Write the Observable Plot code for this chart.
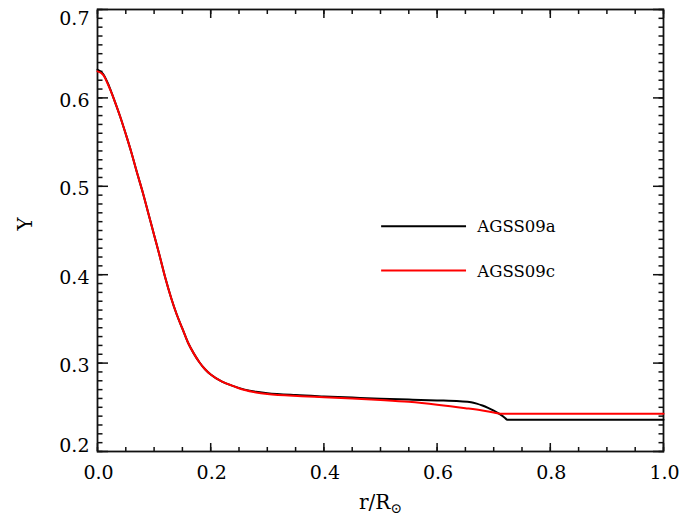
<!DOCTYPE html>
<html>
<head>
<meta charset="utf-8">
<script src="https://cdn.jsdelivr.net/npm/d3@7"></script>
<script src="https://cdn.jsdelivr.net/npm/@observablehq/plot@0.6"></script>
<style>
  html, body { margin: 0; padding: 0; background: white; }
</style>
</head>
<body>
<div id="chart"></div>
<script>
// ---- data ----
const rA = [0, 0.01, 0.02, 0.03, 0.04, 0.05, 0.06, 0.07, 0.08, 0.09, 0.10, 0.11, 0.12, 0.13, 0.14, 0.15, 0.16, 0.17, 0.18, 0.19, 0.20, 0.22, 0.24, 0.26, 0.28, 0.30, 0.35, 0.40, 0.45, 0.50, 0.55, 0.60, 0.64, 0.66, 0.67, 0.68, 0.69, 0.70, 0.71, 0.72, 0.724, 0.75, 0.85, 1.0];
const yA = [0.632, 0.627, 0.614, 0.597, 0.579, 0.559, 0.538, 0.515, 0.493, 0.469, 0.445, 0.421, 0.396, 0.374, 0.355, 0.339, 0.323, 0.311, 0.301, 0.293, 0.287, 0.279, 0.274, 0.270, 0.2675, 0.2660, 0.2638, 0.2623, 0.261, 0.2598, 0.2588, 0.2578, 0.2568, 0.2558, 0.2542, 0.2520, 0.2493, 0.2462, 0.2425, 0.2380, 0.2358, 0.2358, 0.2358, 0.2358];
const rC = [0, 0.01, 0.02, 0.03, 0.04, 0.05, 0.06, 0.07, 0.08, 0.09, 0.10, 0.11, 0.12, 0.13, 0.14, 0.15, 0.16, 0.17, 0.18, 0.19, 0.20, 0.22, 0.24, 0.26, 0.28, 0.30, 0.36, 0.40, 0.45, 0.50, 0.55, 0.60, 0.65, 0.68, 0.70, 0.712, 0.75, 0.85, 1.0];
const yC = [0.630, 0.626, 0.613, 0.597, 0.579, 0.559, 0.538, 0.515, 0.493, 0.469, 0.445, 0.421, 0.396, 0.374, 0.355, 0.339, 0.323, 0.311, 0.301, 0.293, 0.287, 0.279, 0.274, 0.2695, 0.2668, 0.2650, 0.2626, 0.2615, 0.2600, 0.2583, 0.2562, 0.2530, 0.2490, 0.2463, 0.2441, 0.2426, 0.2426, 0.2426, 0.2426];
const seriesNames = ["AGSS09a", "AGSS09c"];
const seriesColors = ["black", "#ff0000"];
const xMajor = [0, 0.2, 0.4, 0.6, 0.8, 1.0];
const xMinor = d3.range(0, 21).map(i => i * 0.05);
const yMajor = [0.2, 0.3, 0.4, 0.5, 0.6, 0.7];
const yMinor = d3.range(0, 51).map(i => 0.2 + i * 0.01);

const dataA = rA.map((r, i) => ({ r, y: yA[i], s: seriesNames[0] }));
const dataC = rC.map((r, i) => ({ r, y: yC[i], s: seriesNames[1] }));
const legend = seriesNames.map((s, i) => ({ s, c: seriesColors[i], y: [0.4549, 0.4048][i] }));

const fmt = d3.format(".1f");
const blank = () => "";
const tickStyle = { tickFormat: blank, label: null, strokeWidth: 1.5, stroke: "#111" };
const labelStyle = { fontSize: 19, letterSpacing: "1.5px" };

const chart = Plot.plot({
  width: 687,
  height: 531,
  marginLeft: 97,
  marginRight: 24,
  marginTop: 9,
  marginBottom: 80,
  x: { domain: [0, 1] },
  y: { domain: [0.2, 0.7] },
  style: { fontFamily: "DejaVu Serif", fontSize: "19px", color: "black", background: "white" },
  marks: [
    // x tick labels
    Plot.text(xMajor, { x: d => d, text: d => fmt(d), frameAnchor: "bottom", dy: 27, dx: 1, ...labelStyle }),
    // y tick labels (IDL nudges the end labels inside)
    Plot.text(yMajor.slice(1, -1), { y: d => d, text: d => fmt(d), frameAnchor: "left", dx: -8, dy: 3, textAnchor: "end", ...labelStyle }),
    Plot.text(yMajor.slice(0, 1), { y: d => d, text: d => fmt(d), frameAnchor: "left", dx: -8, dy: -6, textAnchor: "end", ...labelStyle }),
    Plot.text(yMajor.slice(-1), { y: d => d, text: d => fmt(d), frameAnchor: "left", dx: -8, dy: 9, textAnchor: "end", ...labelStyle }),
    // inward ticks on all four sides
    Plot.axisX(xMajor, { anchor: "bottom", tickSize: 8, dy: -8, ...tickStyle }),
    Plot.axisX(xMinor, { anchor: "bottom", tickSize: 4, dy: -4, ...tickStyle }),
    Plot.axisX(xMajor, { anchor: "top", tickSize: 8, dy: 8, ...tickStyle }),
    Plot.axisX(xMinor, { anchor: "top", tickSize: 4, dy: 4, ...tickStyle }),
    Plot.axisY(yMajor, { anchor: "left", tickSize: 11, dx: 11, ...tickStyle }),
    Plot.axisY(yMinor, { anchor: "left", tickSize: 5.5, dx: 5.5, ...tickStyle }),
    Plot.axisY(yMajor, { anchor: "right", tickSize: 11, dx: -11, ...tickStyle }),
    Plot.axisY(yMinor, { anchor: "right", tickSize: 5.5, dx: -5.5, ...tickStyle }),
    Plot.frame({ stroke: "#111", strokeWidth: 1.8 }),
    // curves
    Plot.line(dataA, { x: "r", y: "y", stroke: seriesColors[0], strokeWidth: 2, curve: "monotone-x" }),
    Plot.line(dataC, { x: "r", y: "y", stroke: seriesColors[1], strokeWidth: 2, curve: "monotone-x" }),
    // legend
    Plot.ruleY(legend, { y: "y", x1: 0.502, x2: 0.652, stroke: "c", strokeWidth: 2 }),
    Plot.text(legend, { y: "y", x: 0.671, text: "s", textAnchor: "start", fontSize: 16.5, dy: 1 }),
    // axis titles
    Plot.text(["r/R"], { frameAnchor: "bottom", dy: 57, text: d => d, className: "xlabel", fontSize: 20 }),
    Plot.text(["Y"], { frameAnchor: "left", dx: -72, rotate: -90, text: d => d, fontSize: 20 })
  ]
});

// add the solar subscript to the x title
d3.select(chart).selectAll(".xlabel text").each(function () {
  const t = d3.select(this);
  t.text("r/R");
  t.append("tspan").attr("font-size", 14).attr("dy", "0.3em").text("\u2299");
});

document.getElementById("chart").appendChild(chart);
</script>
</body>
</html>
